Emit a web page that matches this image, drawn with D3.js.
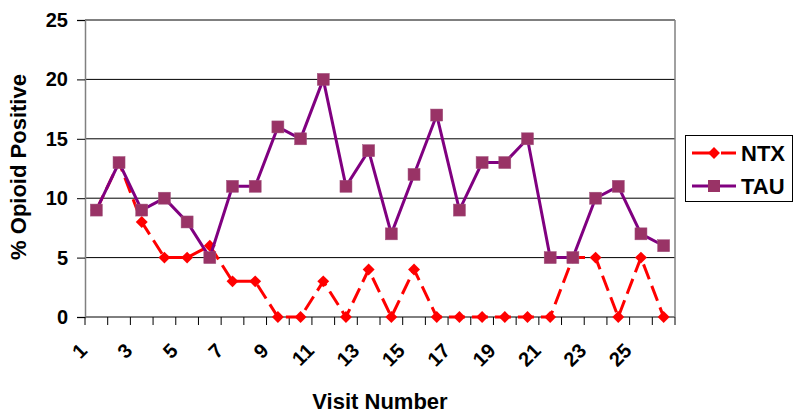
<!DOCTYPE html>
<html>
<head>
    <script src="https://cdnjs.cloudflare.com/ajax/libs/d3/7.8.5/d3.min.js"></script>
    <style>
        body { margin: 0; background: #fff; }
        text { font-family: "Liberation Sans", Arial, sans-serif; font-weight: bold; fill: #000; }
    </style>
</head>
<body>
    <svg id="chart" width="800" height="413"></svg>
    <script>
        // data
        const visits = d3.range(1, 27);
        const ntx = [9, 13, 8, 5, 5, 6, 3, 3, 0, 0, 3, 0, 4, 0, 4, 0, 0, 0, 0, 0, 0, 5, 5, 0, 5, 0];
        const tau = [9, 13, 9, 10, 8, 5, 11, 11, 16, 15, 20, 11, 14, 7, 12, 17, 9, 13, 13, 15, 5, 5, 10, 11, 7, 6];
        const yTicks = [0, 5, 10, 15, 20, 25];
        const xLabels = [1, 3, 5, 7, 9, 11, 13, 15, 17, 19, 21, 23, 25];

        const svg = d3.select("#chart");
        const plotL = 85, plotR = 675, plotT = 20, plotB = 317;

        const x = d3.scaleBand().domain(visits).range([plotL, plotR]).padding(0);
        const y = d3.scaleLinear().domain([0, 25]).range([plotB, plotT]);
        const cx = d => x(d) + x.bandwidth() / 2;

        // gridlines
        svg.append("g").selectAll("line")
            .data(yTicks)
            .enter().append("line")
            .attr("x1", plotL).attr("x2", plotR)
            .attr("y1", d => y(d)).attr("y2", d => y(d))
            .attr("stroke", "#000").attr("stroke-width", 1);

        // right border + y axis
        svg.append("line")
            .attr("x1", plotR).attr("x2", plotR).attr("y1", plotT).attr("y2", plotB)
            .attr("stroke", "#808080").attr("stroke-width", 1.5);

        const yAxis = svg.append("g")
            .attr("transform", `translate(${plotL},0)`)
            .call(d3.axisLeft(y).tickValues(yTicks).tickSize(8).tickPadding(9));
        yAxis.select(".domain").attr("stroke", "#808080").attr("stroke-width", 1.5);
        yAxis.selectAll(".tick line").attr("stroke", "#000");
        yAxis.selectAll("text").style("font-size", "20px").attr("fill", "#000");

        // x axis ticks on category boundaries
        const bounds = visits.map(d => x(d)).concat([plotR]);
        svg.append("g").selectAll("line")
            .data(bounds)
            .enter().append("line")
            .attr("x1", d => d).attr("x2", d => d)
            .attr("y1", plotB).attr("y2", plotB + 8)
            .attr("stroke", "#000");

        svg.append("g").selectAll("text")
            .data(xLabels)
            .enter().append("text")
            .attr("text-anchor", "end")
            .attr("transform", d => `translate(${cx(d) - 8},${plotB + 35}) rotate(-45)`)
            .style("font-size", "20px")
            .text(d => d);

        // series
        const line = arr => d3.line().x((v, i) => cx(visits[i])).y(v => y(v))(arr);
        const diamond = d3.symbol().type(d3.symbolDiamond2).size(90);

        svg.append("path")
            .attr("d", line(ntx))
            .attr("fill", "none").attr("stroke", "#ff0000")
            .attr("stroke-width", 3).attr("stroke-dasharray", "16,7");
        svg.append("g").selectAll("path")
            .data(ntx)
            .enter().append("path")
            .attr("d", diamond)
            .attr("transform", (v, i) => `translate(${cx(visits[i])},${y(v)})`)
            .attr("fill", "#ff0000");

        svg.append("path")
            .attr("d", line(tau))
            .attr("fill", "none").attr("stroke", "#800080")
            .attr("stroke-width", 3);
        svg.append("g").selectAll("rect")
            .data(tau)
            .enter().append("rect")
            .attr("x", (v, i) => cx(visits[i]) - 6)
            .attr("y", v => y(v) - 6)
            .attr("width", 12).attr("height", 12)
            .attr("fill", "#993366").attr("stroke", "#a0527d").attr("stroke-width", 0.5);

        // axis titles
        svg.append("text")
            .attr("transform", "translate(26,167) rotate(-90)")
            .attr("text-anchor", "middle")
            .style("font-size", "22px")
            .text("% Opioid Positive");

        svg.append("text")
            .attr("x", 380).attr("y", 409)
            .attr("text-anchor", "middle")
            .style("font-size", "22px")
            .text("Visit Number");

        // legend
        const legend = svg.append("g");
        legend.append("rect")
            .attr("x", 685.5).attr("y", 135.5).attr("width", 107).attr("height", 66)
            .attr("fill", "#fff").attr("stroke", "#000");
        const items = [
            { name: "NTX", color: "#ff0000", y: 153 },
            { name: "TAU", color: "#800080", y: 186 }
        ];
        items.forEach((it, k) => {
            legend.append("line")
                .attr("x1", 692).attr("x2", 736).attr("y1", it.y).attr("y2", it.y)
                .attr("stroke", it.color).attr("stroke-width", 3)
                .attr("stroke-dasharray", k === 0 ? "24,5" : null);
            if (k === 0) {
                legend.append("path").attr("d", diamond)
                    .attr("transform", `translate(714,${it.y})`).attr("fill", "#ff0000");
            } else {
                legend.append("rect").attr("x", 708).attr("y", it.y - 6)
                    .attr("width", 12).attr("height", 12).attr("fill", "#993366");
            }
            legend.append("text")
                .attr("x", 741).attr("y", it.y + 8)
                .style("font-size", "22px")
                .text(it.name);
        });
    </script>
</body>
</html>
